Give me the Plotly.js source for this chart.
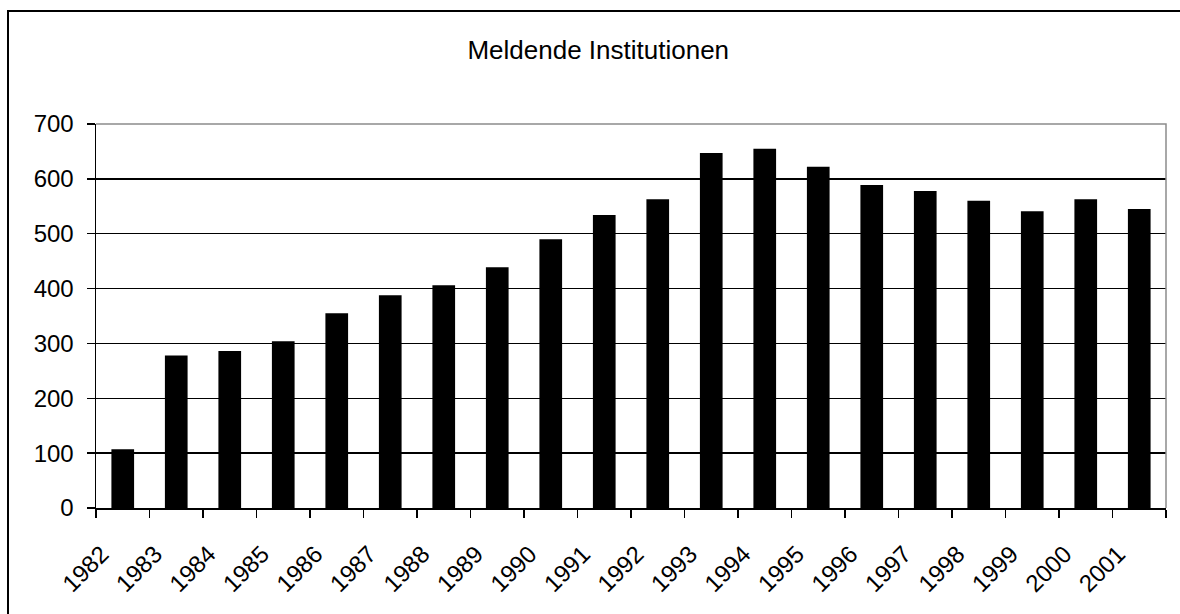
<!DOCTYPE html>
<html>
<head>
<meta charset="utf-8">
<script src="https://cdn.plot.ly/plotly-3.0.1.min.js"></script>
<style>
  html, body { margin: 0; padding: 0; background: #ffffff; }
  #wrap { position: relative; width: 1180px; height: 614px; overflow: hidden; }
  #chart { position: absolute; left: 0; top: 0; width: 1180px; height: 614px; }
  #frame { position: absolute; left: 7px; top: 10px; width: 1200px; height: 700px;
           border: 2px solid #000; pointer-events: none; box-sizing: border-box; }
</style>
</head>
<body>
<div id="wrap">
  <div id="chart"></div>
  <div id="frame"></div>
</div>
<script>
const years = ["1982","1983","1984","1985","1986","1987","1988","1989","1990","1991",
               "1992","1993","1994","1995","1996","1997","1998","1999","2000","2001"];
const institutions = [107, 278, 286, 304, 355, 388, 406, 439, 490, 534,
                      563, 647, 655, 622, 589, 578, 560, 541, 563, 545];
const chartTitle = "Meldende Institutionen";

const FONT = "Liberation Sans, Arial, sans-serif";

const data = [{
  type: "bar",
  x: years,
  y: institutions,
  marker: { color: "#000000", line: { width: 0 } },
  hoverinfo: "x+y"
}];

const layout = {
  width: 1180,
  height: 614,
  margin: { l: 96, r: 14, t: 124, b: 106 },
  paper_bgcolor: "rgba(0,0,0,0)",
  plot_bgcolor: "#ffffff",
  showlegend: false,
  bargap: 0.576,
  font: { family: FONT, size: 24, color: "#000" },
  title: {
    text: chartTitle,
    font: { family: FONT, size: 26, color: "#000" },
    x: 0.507, xanchor: "center",
    y: 0.918, yanchor: "middle"
  },
  xaxis: {
    type: "category",
    tickson: "boundaries",
    ticks: "outside",
    ticklen: 8,
    tickwidth: 1.5,
    tickcolor: "#000",
    showline: true,
    linecolor: "#000",
    linewidth: 1.5,
    showgrid: false,
    zeroline: false,
    tickangle: -45,
    ticklabelshift: -21,
    ticklabelstandoff: 21,
    tickfont: { family: FONT, size: 24, color: "#000" }
  },
  yaxis: {
    range: [0, 700],
    dtick: 100,
    tick0: 0,
    ticks: "outside",
    ticklen: 8,
    tickwidth: 1.5,
    tickcolor: "#000",
    showline: true,
    linecolor: "#000",
    linewidth: 1.5,
    showgrid: true,
    gridcolor: "#000",
    gridwidth: 1.3,
    zeroline: false,
    ticklabelstandoff: 8,
    tickfont: { family: FONT, size: 24, color: "#000" }
  },
  shapes: [{
    type: "path",
    xref: "paper", yref: "paper",
    path: "M0,1 L1,1 L1,0",
    line: { color: "#8c8c8c", width: 1.5 },
    layer: "above"
  }]
};

Plotly.newPlot("chart", data, layout, { staticPlot: true, displayModeBar: false });
</script>
</body>
</html>
